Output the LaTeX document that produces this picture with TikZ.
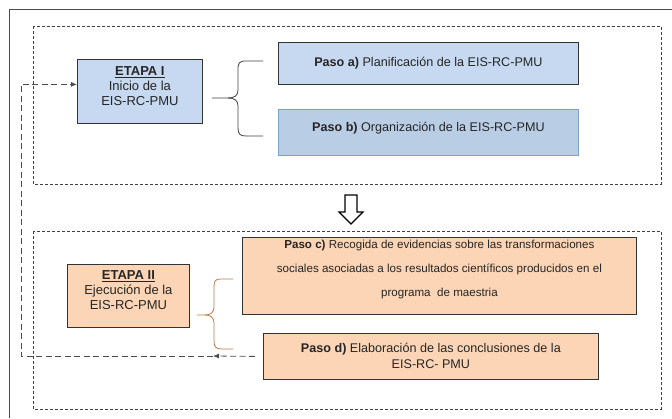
\documentclass[tikz,border=0pt]{standalone}
\usepackage{fontspec}
\setmainfont{Liberation Sans}
\usetikzlibrary{arrows.meta}

\definecolor{azul}{HTML}{C6D9F1}
\definecolor{azulb}{HTML}{B9CDE5}
\definecolor{bordeazul}{HTML}{7BA0CD}
\definecolor{salmon}{HTML}{FBD5B5}
\definecolor{cafe}{HTML}{B87D4B}

\begin{document}
\begin{tikzpicture}
[x=1pt,y=-1pt,
ar/.style={-{Latex[length=6pt,width=5pt]}},
mybox/.style={
  draw=black!80, line width=0.8pt, anchor=north west, align=center,
  font=\fontsize{12.6}{16}\selectfont, text=black!85, inner sep=2pt
  }
]

\tikzstyle{etapa}  =  [mybox, font=\fontsize{13}{15}\selectfont]
\tikzstyle{paso}  =  [mybox]
\tikzstyle{caja}  =  [draw=black!75, line width=0.8pt, dash pattern=on 3pt off 2pt]
\tikzstyle{retro}  =  [draw=black!70, line width=0.8pt, dash pattern=on 6pt off 3.5pt]
\tikzstyle{llave}  =  [line width=0.8pt, rounded corners=0pt]

\useasboundingbox (0,0) rectangle (672,418);

% marco
\draw[black!70, line width=0.8pt] (9,418) |- (672,9);
\draw[caja] (33,26) rectangle (661,184);
\draw[caja] (33,231) rectangle (661,409);

% etapa I
\node[etapa, fill=azul, minimum width=125pt, minimum height=64pt] (e1) at (77,59)
  {\underline{\textbf{ETAPA I}}\\Inicio de la\\EIS-RC-PMU\\[-4pt]};
\node[paso, fill=azul, minimum width=300pt, minimum height=42pt] (pa) at (278,42)
  {\textbf{Paso a)} Planificación de la EIS-RC-PMU};
\node[paso, fill=azulb, draw=bordeazul, minimum width=300pt, minimum height=46pt] (pb) at (278,109)
  {\textbf{Paso b)} Organización de la EIS-RC-PMU\\[-4pt]};

% etapa II
\node[etapa, fill=salmon, minimum width=122pt, minimum height=63pt] (e2) at (67,264)
  {\underline{\textbf{ETAPA II}}\\Ejecución de la\\EIS-RC-PMU\\[-4pt]};
\node[paso, fill=salmon, minimum width=394pt, minimum height=77pt,
  font=\fontsize{11.6}{24}\selectfont] (pc) at (242,237)
  {\textbf{Paso c)} Recogida de evidencias sobre las transformaciones\\
   sociales asociadas a los resultados científicos producidos en el\\
   programa\ \ de maestria\\[-8pt]};
\node[paso, fill=salmon, minimum width=335pt, minimum height=46pt] (pd) at (263,333)
  {\textbf{Paso d)} Elaboración de las conclusiones de la\\EIS-RC- PMU};

% llaves
\draw[llave, black!75] (263,61) -- (246,61) .. controls (239,61) and (238,63) .. (238,70)
  -- (238,90) .. controls (238,96) and (234,98) .. (228,98) -- (212,98);
\draw[llave, black!75] (228,98) .. controls (234,98) and (238,100) .. (238,106)
  -- (238,128) .. controls (238,134) and (240,136) .. (246,136) -- (263,136);
\draw[llave, cafe] (233,279) -- (221,279) .. controls (215,279) and (214,281) .. (214,287)
  -- (214,307) .. controls (214,313) and (210,315) .. (205,315) -- (197,315);
\draw[llave, cafe] (205,315) .. controls (210,315) and (214,317) .. (214,323)
  -- (214,341) .. controls (214,347) and (216,349) .. (222,349) -- (233,349);

% flecha entre etapas
\draw[line width=1.2pt, join=miter] (345,195) -- (357,195) -- (357,212) -- (363,212)
  -- (351,224) -- (339,212) -- (345,212) -- cycle;

% retroalimentacion
\coordinate (fb0) at ([xshift=-8pt]pd.west);
\coordinate (fb1) at (213,356);
\draw[retro, ar] (fb0) -- (fb1);
\draw[retro, ar] (fb1) -- (21,356) |- ([yshift=7pt]e1.west);

\end{tikzpicture}
\end{document}
